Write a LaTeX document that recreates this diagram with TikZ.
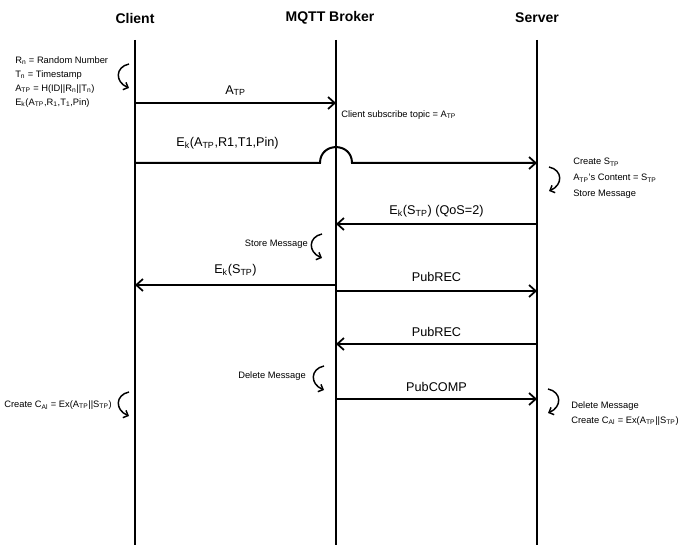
\documentclass[tikz,border=0pt]{standalone}
\usepackage{fontspec}
\setmainfont{Liberation Sans}
\usetikzlibrary{arrows.meta}
\begin{document}
\begin{tikzpicture}[x=0.75pt,y=-0.75pt]
\tikzset{life/.style={line width=1.5pt}}
\tikzset{msg/.style={line width=1.5pt,-{Straight Barb[length=5pt,width=9pt,line width=1.3pt]}}}
\tikzset{lbl/.style={font=\fontsize{9.5}{11}\selectfont,inner sep=1.5pt,above=3pt}}
\tikzset{note/.style={font=\fontsize{7}{10.5}\selectfont,align=left,inner sep=0pt}}
\tikzset{head/.style={font=\fontsize{10.5}{12}\selectfont\bfseries}}
\tikzset{selfloop/.style={line width=1.1pt,-{Straight Barb[length=3pt,width=6pt]}}}
\tikzset{lloop/.pic={\draw[selfloop] (4,-12) .. controls (-10,-9) and (-10,6) .. (4,12);}}
\tikzset{rloop/.pic={\draw[selfloop] (-4,-12) .. controls (10,-9) and (10,6) .. (-4,12);}}
\useasboundingbox (0,0) rectangle (679,545);

% heads and lifelines
\node[head] (client) at (135,18) {Client};
\node[head] (broker) at (330,18) {MQTT Broker};
\node[head] (server) at (537,18) {Server};
\coordinate (ctop) at (135,40);
\coordinate (cbot) at (135,545);
\coordinate (btop) at (336,40);
\coordinate (bbot) at (336,545);
\coordinate (stop) at (537,40);
\coordinate (sbot) at (537,545);
\draw[life] (ctop) -- (cbot);
\draw[life] (btop) -- (bbot);
\draw[life] (stop) -- (sbot);

% points on the lifelines
\coordinate (c1) at (135,103);
\coordinate (b1) at (336,103);
\coordinate (c2) at (135,163);
\coordinate (h1) at (320,163);
\coordinate (h2) at (352,163);
\coordinate (s2) at (537,163);
\coordinate (s3) at (537,224);
\coordinate (b3) at (336,224);
\coordinate (b4) at (336,285);
\coordinate (c4) at (135,285);
\coordinate (b5) at (336,291);
\coordinate (s5) at (537,291);
\coordinate (s6) at (537,344);
\coordinate (b6) at (336,344);
\coordinate (b7) at (336,399);
\coordinate (s7) at (537,399);

% messages
\draw[msg] (c1) -- node[lbl] {A\textsubscript{TP}} (b1);
\draw[msg] (c2) -- node[lbl,above=5pt] {E\textsubscript{k}(A\textsubscript{TP},R1,T1,Pin)} (h1)
  to[out=90,in=90,looseness=1.7] (h2) -- (s2);
\draw[msg] (s3) -- node[lbl] {E\textsubscript{k}(S\textsubscript{TP}) (QoS=2)} (b3);
\draw[msg] (b4) -- node[lbl,above=1.5pt] {E\textsubscript{k}(S\textsubscript{TP})} (c4);
\draw[msg] (b5) -- node[lbl,above=1.5pt] {PubREC} (s5);
\draw[msg] (s6) -- node[lbl] {PubREC} (b6);
\draw[msg] (b7) -- node[lbl] {PubCOMP} (s7);

% notes
\node[note,anchor=north west] (cnote) at (15,56) {R\textsubscript{n} = Random Number\\
  T\textsubscript{n} = Timestamp\\
  A\textsubscript{TP} = H(ID||R\textsubscript{n}||T\textsubscript{n})\\
  E\textsubscript{k}(A\textsubscript{TP},R\textsubscript{1},T\textsubscript{1},Pin)};
\pic at (125,76) {lloop};
\node[note,anchor=west] (sub) at (341,115) {Client subscribe topic = A\textsubscript{TP}};
\node[note,anchor=north west,font=\fontsize{7}{12}\selectfont] (snote) at (573,158) {Create S\textsubscript{TP}\\
  A\textsubscript{TP}'s Content = S\textsubscript{TP}\\
  Store Message};
\pic at (553,179) {rloop};
\node[note,anchor=east] (store) at (308,244) {Store Message};
\pic at (318,246) {lloop};
\node[note,anchor=east] (del) at (306,376) {Delete Message};
\pic at (320,378) {lloop};
\node[note,anchor=east] (cfin) at (112,405) {Create C\textsubscript{Al} = Ex(A\textsubscript{TP}||S\textsubscript{TP})};
\pic at (125,404) {lloop};
\node[note,anchor=north west,font=\fontsize{7}{11.5}\selectfont] (sfin) at (571,401) {Delete Message\\
  Create C\textsubscript{Al} = Ex(A\textsubscript{TP}||S\textsubscript{TP})};
\pic at (552,401) {rloop};
\end{tikzpicture}
\end{document}
